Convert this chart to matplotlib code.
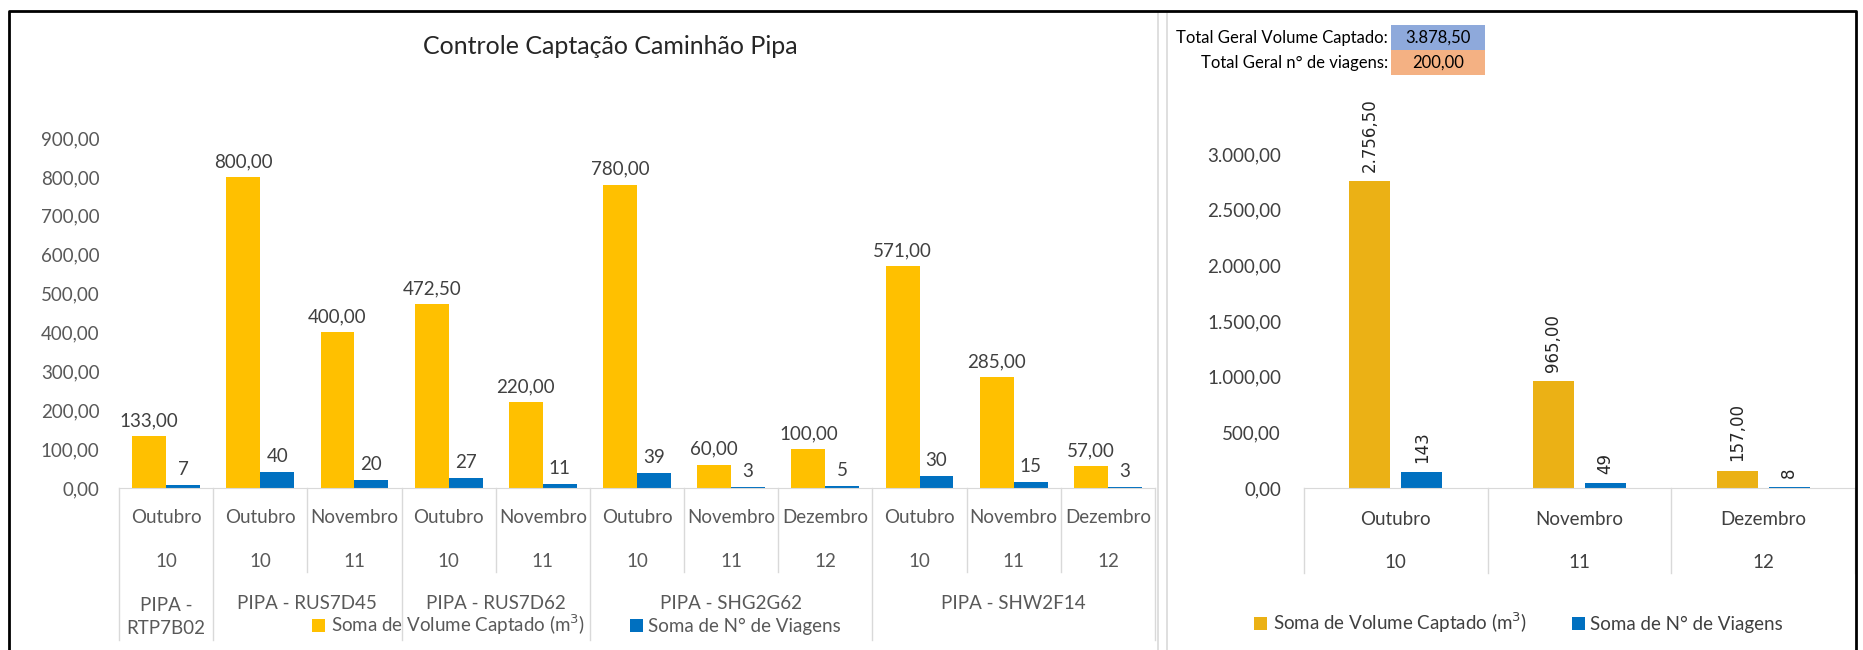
import numpy as np
import matplotlib
matplotlib.use("Agg")
import matplotlib.pyplot as plt
from matplotlib.patches import Rectangle
from matplotlib.lines import Line2D

plt.rcParams['font.family'] = ['Lato', 'DejaVu Sans']

# left chart data
grupos = ["PIPA -\nRTP7B02", "PIPA - RUS7D45", "PIPA - RUS7D62", "PIPA - SHG2G62", "PIPA - SHW2F14"]
grupo_idx = [0, 1, 1, 2, 2, 3, 3, 3, 4, 4, 4]
meses = ["Outubro", "Outubro", "Novembro", "Outubro", "Novembro", "Outubro",
         "Novembro", "Dezembro", "Outubro", "Novembro", "Dezembro"]
mes_num = [10, 10, 11, 10, 11, 10, 11, 12, 10, 11, 12]
volume = [133, 800, 400, 472.5, 220, 780, 60, 100, 571, 285, 57]
viagens = [7, 40, 20, 27, 11, 39, 3, 5, 30, 15, 3]

# right chart data
meses_tot = ["Outubro", "Novembro", "Dezembro"]
mes_num_tot = [10, 11, 12]
volume_tot = [2756.5, 965, 157]
viagens_tot = [143, 49, 8]

W, H = 1863, 650
fig = plt.figure(figsize=(W / 100, H / 100), dpi=100)

AMARELO = '#ffc000'
AMARELO2 = '#ebb115'
AZUL = '#0070c0'
CINZA = '#595959'
LINHA = '#d9d9d9'
FS = 13.5


def br(v, dec=2):
    s = f"{v:,.{dec}f}"
    return s.replace(",", "X").replace(".", ",").replace("X", ".")


def px(x0, y0, w, h):
    return [x0 / W, 1 - (y0 + h) / H, w / W, h / H]


def clean(ax, pad):
    for s in ['top', 'right', 'left']:
        ax.spines[s].set_visible(False)
    ax.spines['bottom'].set_color(LINHA)
    ax.tick_params(axis='both', length=0, labelsize=FS, labelcolor=CINZA)
    ax.tick_params(axis='y', pad=pad)
    ax.set_xticks([])


# ---------------- left chart
ax = fig.add_axes(px(119, 138, 1036, 350))
n = len(meses)
x = np.arange(n)
bw = 0.36
r1 = ax.bar(x - bw / 2, volume, bw, color=AMARELO, label='Soma de Volume Captado (m$^3$)')
r2 = ax.bar(x + bw / 2, viagens, bw, color=AZUL, label='Soma de N° de Viagens')
ax.set_xlim(-0.5, n - 0.5)
ax.set_ylim(0, 900)
ax.set_yticks(np.arange(0, 901, 100))
ax.set_yticklabels([br(v) for v in np.arange(0, 901, 100)])
clean(ax, 14)

for r, v in zip(r1, volume):
    ax.annotate(br(v), (r.get_x() + r.get_width() / 2, v), xytext=(0, 5), textcoords='offset points',
                ha='center', va='bottom', fontsize=FS, color='#404040')
for r, v in zip(r2, viagens):
    ax.annotate(str(v), (r.get_x() + r.get_width() / 2, v), xytext=(0, 5), textcoords='offset points',
                ha='center', va='bottom', fontsize=FS, color='#404040')

tr = ax.get_xaxis_transform()
for i in range(n):
    ax.text(i, -0.083, meses[i], transform=tr, ha='center', va='center', fontsize=FS, color=CINZA)
    ax.text(i, -0.211, str(mes_num[i]), transform=tr, ha='center', va='center', fontsize=FS, color=CINZA)
for b in range(n + 1):
    novo = b == 0 or b == n or grupo_idx[b] != grupo_idx[b - 1]
    ax.plot([b - 0.5, b - 0.5], [0, -0.434 if novo else -0.24], transform=tr,
            color=LINHA, lw=1, clip_on=False)
for g, nome in enumerate(grupos):
    pos = [i for i in range(n) if grupo_idx[i] == g]
    yy = -0.369 if "\n" in nome else -0.331
    ax.text(np.mean(pos), yy, nome, transform=tr, ha='center', va='center', fontsize=FS,
            color=CINZA, linespacing=1.45)

leg_kw = dict(loc='center left', ncol=2, frameon=False, fontsize=FS, handlelength=0.7,
              handleheight=0.7, handletextpad=0.3, columnspacing=2.4, borderpad=0, borderaxespad=0)
fig.legend(handles=[r1, r2], bbox_to_anchor=(312 / W, 1 - 625 / H), labelcolor=CINZA, **leg_kw)

fig.text(610 / W, 1 - 46 / H, 'Controle Captação Caminhão Pipa', ha='center', va='center',
         fontsize=18, color='#262626')

# ---------------- right chart
ax2 = fig.add_axes(px(1304, 154, 551, 334))
m = len(meses_tot)
x2 = np.arange(m)
off = 0.142
bw2 = 0.223
s1 = ax2.bar(x2 - off, volume_tot, bw2, color=AMARELO2, label='Soma de Volume Captado (m$^3$)')
s2 = ax2.bar(x2 + off, viagens_tot, bw2, color=AZUL, label='Soma de N° de Viagens')
ax2.set_xlim(-0.5, m - 0.5)
ax2.set_ylim(0, 3000)
ax2.set_yticks(np.arange(0, 3001, 500))
ax2.set_yticklabels([br(v) for v in np.arange(0, 3001, 500)])
clean(ax2, 16.5)
ax2.tick_params(axis='y', labelcolor='#404040')

for r, v in zip(s1, volume_tot):
    ax2.annotate(br(v), (r.get_x() + r.get_width() / 2, v), xytext=(0, 6.5), textcoords='offset points',
                 ha='center', va='bottom', rotation=90, fontsize=12, color='#262626',
                 family='DejaVu Sans', annotation_clip=False)
for r, v in zip(s2, viagens_tot):
    ax2.annotate(str(v), (r.get_x() + r.get_width() / 2, v), xytext=(0, 6.5), textcoords='offset points',
                 ha='center', va='bottom', rotation=90, fontsize=12, color='#262626',
                 family='DejaVu Sans')

tr2 = ax2.get_xaxis_transform()
for i in range(m):
    ax2.text(i, -0.093, meses_tot[i], transform=tr2, ha='center', va='center', fontsize=FS, color='#404040')
    ax2.text(i, -0.222, str(mes_num_tot[i]), transform=tr2, ha='center', va='center', fontsize=FS, color='#404040')
for b in range(m + 1):
    ax2.plot([b - 0.5, b - 0.5], [0, -0.254], transform=tr2, color=LINHA, lw=1, clip_on=False)

fig.legend(handles=[s1, s2], bbox_to_anchor=(1254 / W, 1 - 623 / H), labelcolor='#404040', **leg_kw)

# totals
tot_vol = sum(volume)
tot_via = sum(viagens)
fig.patches.append(Rectangle((1391 / W, 1 - 50 / H), 94 / W, 25 / H, transform=fig.transFigure,
                             facecolor='#8ea9db', edgecolor='none'))
fig.patches.append(Rectangle((1391 / W, 1 - 75 / H), 94 / W, 25 / H, transform=fig.transFigure,
                             facecolor='#f4b183', edgecolor='none'))
fig.text(1388 / W, 1 - 38 / H, 'Total Geral Volume Captado:', ha='right', va='center', fontsize=12)
fig.text(1388 / W, 1 - 63 / H, 'Total Geral n° de viagens:', ha='right', va='center', fontsize=12)
fig.text(1438 / W, 1 - 38 / H, br(tot_vol), ha='center', va='center', fontsize=12)
fig.text(1438 / W, 1 - 63 / H, br(tot_via), ha='center', va='center', fontsize=12)

# frames
fig.add_artist(Line2D([1158 / W, 1158 / W], [0, 1 - 13 / H], color=LINHA, lw=1.2))
fig.add_artist(Line2D([1167 / W, 1167 / W], [0, 1 - 13 / H], color=LINHA, lw=1.2))
fig.add_artist(Line2D([9 / W, 9 / W, 1856 / W, 1856 / W], [0, 1 - 11 / H, 1 - 11 / H, 0],
                      color='black', lw=2))

fig.savefig('out.png', dpi=100)
